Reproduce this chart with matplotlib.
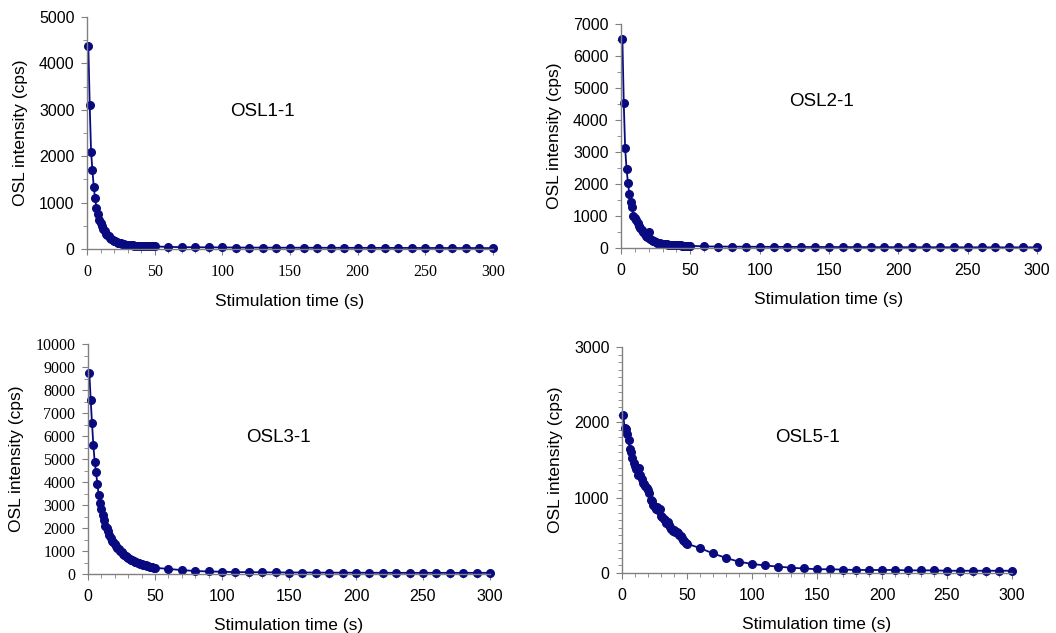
import matplotlib.pyplot as plt
from matplotlib.ticker import MultipleLocator

plt.rcParams['font.family'] = ['Liberation Sans', 'DejaVu Sans']

# stimulation time: 1 s channels up to 50 s, then every 10 s
t = list(range(1, 51)) + list(range(60, 301, 10))

osl1 = [4380, 3110, 2100, 1700, 1330, 1090, 890, 760, 630, 560,
        490, 430, 380, 330, 300, 270, 240, 220, 200, 180,
        165, 150, 140, 130, 120, 110, 100, 95, 90, 85,
        82, 80, 78, 76, 74, 72, 70, 68, 66, 65,
        64, 63, 62, 61, 60, 59, 58, 57, 56, 55,
        45, 40, 38, 36, 34, 32, 30, 30, 28, 28,
        27, 26, 26, 25, 25, 24, 24, 23, 23, 22,
        22, 21, 21, 20, 20]

osl2 = [6530, 4520, 3110, 2480, 2030, 1700, 1450, 1290, 1010, 950,
        870, 780, 700, 620, 560, 500, 440, 390, 350, 500,
        280, 250, 230, 210, 190, 170, 160, 150, 140, 130,
        122, 115, 110, 105, 100, 96, 92, 90, 88, 86,
        84, 82, 80, 78, 76, 75, 74, 72, 71, 70,
        50, 45, 42, 40, 38, 36, 35, 34, 32, 31,
        30, 29, 28, 27, 26, 25, 25, 24, 23, 22,
        22, 21, 21, 20, 20]

osl3 = [8750, 7580, 6550, 5600, 4870, 4420, 3920, 3420, 3080, 2820,
        2550, 2350, 2100, 1980, 1850, 1700, 1560, 1450, 1380, 1300,
        1220, 1140, 1070, 1000, 940, 890, 840, 790, 740, 700,
        660, 630, 600, 570, 540, 510, 490, 470, 450, 430,
        410, 390, 370, 355, 340, 325, 310, 295, 280, 270,
        220, 170, 130, 110, 100, 80, 80, 75, 70, 65,
        65, 60, 60, 55, 55, 55, 50, 50, 50, 50,
        50, 50, 50, 50, 50]

osl5 = [2100, 1920, 1910, 1840, 1770, 1640, 1600, 1520, 1460, 1420,
        1380, 1300, 1400, 1300, 1250, 1200, 1180, 1150, 1130, 1100,
        1060, 970, 960, 900, 870, 850, 880, 840, 850, 760,
        740, 720, 700, 660, 680, 640, 610, 580, 560, 570,
        540, 550, 530, 510, 490, 470, 440, 420, 400, 390,
        330, 260, 200, 150, 120, 100, 85, 70, 60, 50,
        50, 45, 40, 40, 40, 40, 35, 35, 35, 30,
        30, 30, 30, 30, 30]

panels = [
    # data, label, ymax, ymajor, yminor, axes box in px (left, bottom, right, top), label pos
    (osl1, 'OSL1-1', 5000, 1000, 500, (87, 249, 493, 17), (262, 112)),
    (osl2, 'OSL2-1', 7000, 1000, 500, (621, 248, 1037, 24), (822, 101)),
    (osl3, 'OSL3-1', 10000, 1000, 500, (88, 574, 490, 344), (278, 437)),
    (osl5, 'OSL5-1', 3000, 1000, 100, (622, 573, 1012, 347), (808, 437)),
]

W, H = 1056, 633
fig = plt.figure(figsize=(W / 100, H / 100), dpi=100)
navy = '#0a0a80'

for i, (y, name, ymax, ymaj, ymin, box, lab) in enumerate(panels):
    l, b, r, tp = box
    ax = fig.add_axes([l / W, 1 - b / H, (r - l) / W, (b - tp) / H])
    ax.plot(t, y, color=navy, lw=1.3, marker='o', ms=5.5, mfc=navy, mec=navy,
            clip_on=False)
    ax.set_xlim(0, 300)
    ax.set_ylim(0, ymax)
    ax.xaxis.set_major_locator(MultipleLocator(50))
    ax.xaxis.set_minor_locator(MultipleLocator(10))
    ax.yaxis.set_major_locator(MultipleLocator(ymaj))
    ax.yaxis.set_minor_locator(MultipleLocator(ymin))
    for s in ['top', 'right']:
        ax.spines[s].set_visible(False)
    for s in ['left', 'bottom']:
        ax.spines[s].set_color('#808080')
        ax.spines[s].set_linewidth(1.0)
    ax.tick_params(which='major', direction='out', length=4, color='#808080',
                   labelsize=11.5)
    ax.tick_params(axis='x', which='major', pad=7)
    ax.tick_params(axis='y', which='major', pad=5)
    ax.tick_params(which='minor', direction='out', length=3, color='#808080')
    if i == 0:
        for tl in ax.get_xticklabels():
            tl.set_family('Liberation Serif')
    if i == 2:
        for tl in ax.get_yticklabels():
            tl.set_family('Liberation Serif')
            tl.set_fontsize(11.5)
    ax.set_xlabel('Stimulation time (s)', fontsize=12.5, labelpad=10)
    ax.set_ylabel('OSL intensity (cps)', fontsize=12.5, labelpad=8)
    fig.text(lab[0] / W, 1 - lab[1] / H, name, fontsize=13.5,
             ha='center', va='center')

fig.savefig('out.png', dpi=100)
